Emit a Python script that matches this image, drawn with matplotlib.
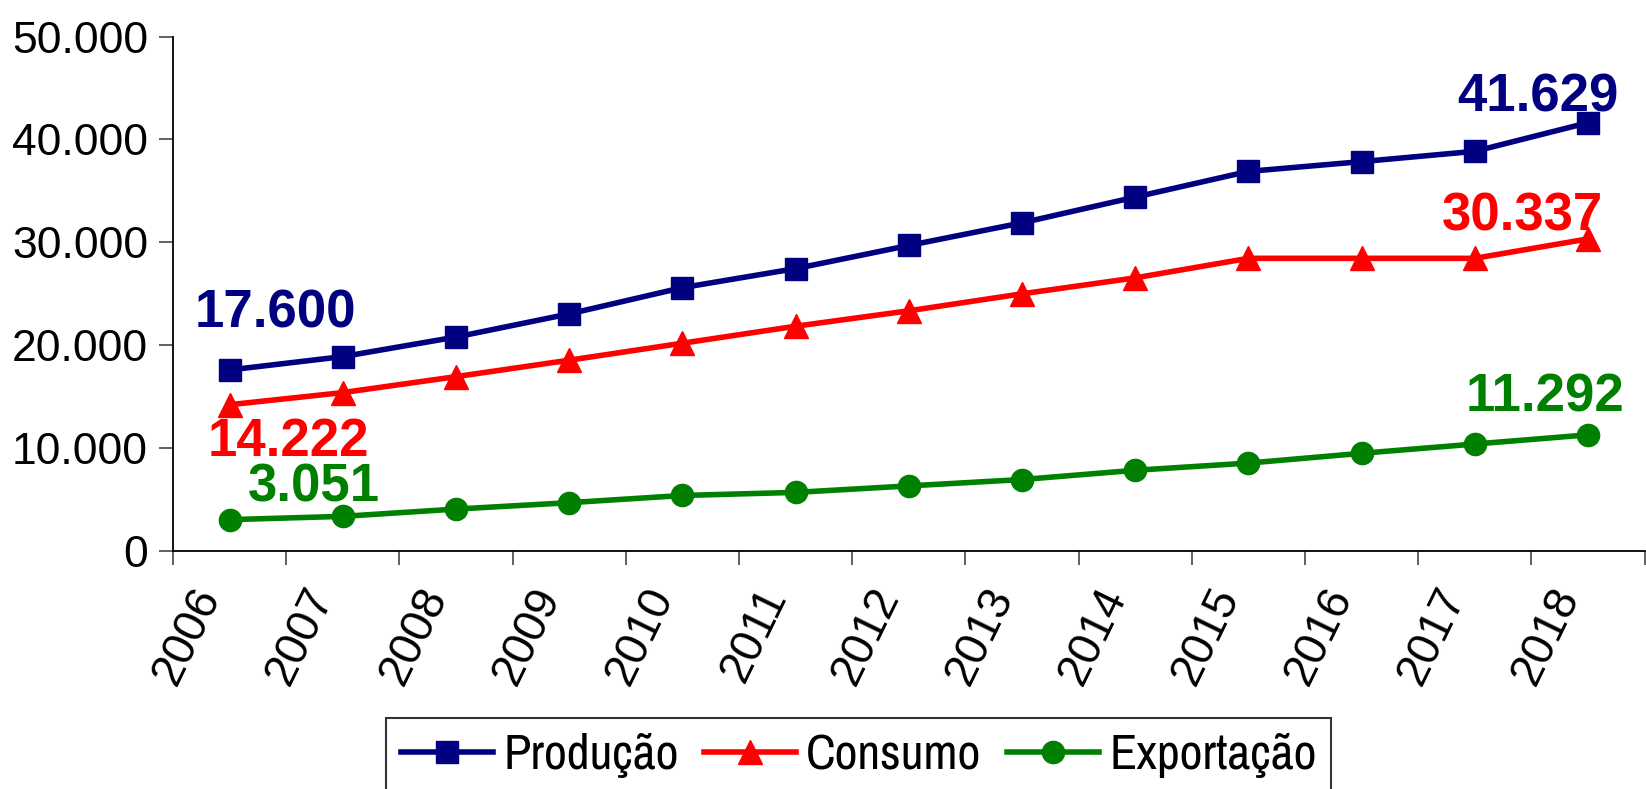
import matplotlib
matplotlib.use('Agg')
import matplotlib.pyplot as plt
from matplotlib import font_manager
from matplotlib.font_manager import FontProperties
from matplotlib.ticker import FuncFormatter, FixedLocator
import numpy as np

plt.rcParams['font.family'] = ['Liberation Sans', 'DejaVu Sans']

anos = ['2006', '2007', '2008', '2009', '2010', '2011', '2012',
        '2013', '2014', '2015', '2016', '2017', '2018']
producao = [17600, 18900, 20800, 23050, 25600, 27450, 29700,
            31900, 34400, 36900, 37850, 38850, 41629]
consumo = [14222, 15400, 16950, 18550, 20200, 21850, 23350,
           25000, 26550, 28450, 28450, 28450, 30337]
exportacao = [3051, 3370, 4080, 4700, 5400, 5700, 6330,
              6950, 7850, 8550, 9500, 10400, 11292]


def fmt(v, pos=None):
    return '{:,.0f}'.format(v).replace(',', '.')


# narrow font for the legend if there is one
files = [f.fname for f in font_manager.fontManager.ttflist]
narrow = [f for f in files if 'LiberationSansNarrow-Regular' in f]
if not narrow:
    narrow = [f for f in files if 'Narrow' in f and 'Bold' not in f and 'Italic' not in f]
if not narrow:
    narrow = [f for f in files if 'DejaVuSansCondensed.ttf' in f]
if narrow:
    legfont = FontProperties(fname=narrow[0], size=36)
else:
    legfont = FontProperties(family='Liberation Sans', size=31)

fig = plt.figure(figsize=(16.46, 7.89), dpi=100)
ax = fig.add_axes([0.1051, 0.3016, 0.894, 0.652])

x = np.arange(len(anos))
ax.plot(x, producao, color='#000080', lw=4, marker='s', ms=16, label='Produção')
ax.plot(x, consumo, color='#FF0000', lw=4, marker='^', ms=17, label='Consumo')
ax.plot(x, exportacao, color='#008000', lw=4, marker='o', ms=16, label='Exportação')

ax.set_xlim(-0.5, len(anos) - 0.5)
ax.set_ylim(0, 50000)
ax.set_yticks([0, 10000, 20000, 30000, 40000, 50000])
ax.yaxis.set_major_formatter(FuncFormatter(fmt))
ax.tick_params(axis='y', labelsize=32, length=10, width=1.3, color='#555555', pad=8)

# ticks between categories, labels at centers
ax.xaxis.set_major_locator(FixedLocator(np.arange(-0.5, len(anos), 1.0)))
ax.xaxis.set_major_formatter(FuncFormatter(lambda v, p: ''))
ax.tick_params(axis='x', which='major', length=10, width=1.3, color='#555555')
ax.set_xticks(x, minor=True)
ax.set_xticklabels(anos, minor=True, rotation=64, ha='right', va='top', fontsize=33)
ax.tick_params(axis='x', which='minor', length=0, pad=21)

for s in ['top', 'right']:
    ax.spines[s].set_visible(False)
for s in ['left', 'bottom']:
    ax.spines[s].set_linewidth(1.3)

lab = dict(fontsize=38, fontweight='bold', ha='center', va='center',
           textcoords='offset points')
ax.annotate(fmt(producao[0]), (0, producao[0]), xytext=(33, 41), color='#000080', **lab)
ax.annotate(fmt(consumo[0]), (0, consumo[0]), xytext=(42, -27), color='#FF0000', **lab)
ax.annotate(fmt(exportacao[0]), (0, exportacao[0]), xytext=(61, 23), color='#008000', **lab)
ax.annotate(fmt(producao[-1]), (12, producao[-1]), xytext=(-36, 18), color='#000080', **lab)
ax.annotate(fmt(consumo[-1]), (12, consumo[-1]), xytext=(-47, 16), color='#FF0000', **lab)
ax.annotate(fmt(exportacao[-1]), (12, exportacao[-1]), xytext=(-31, 27), color='#008000', **lab)

leg = fig.legend(loc='upper left', bbox_to_anchor=(0.2345, 0.0895), ncol=3,
                 prop=legfont, frameon=True, fancybox=False, edgecolor='black',
                 borderaxespad=0, handlelength=1.85, handletextpad=0.2,
                 columnspacing=0.5, borderpad=0.3, markerscale=1.0)
leg.get_frame().set_linewidth(1.5)

fig.savefig('out.png', dpi=100)
